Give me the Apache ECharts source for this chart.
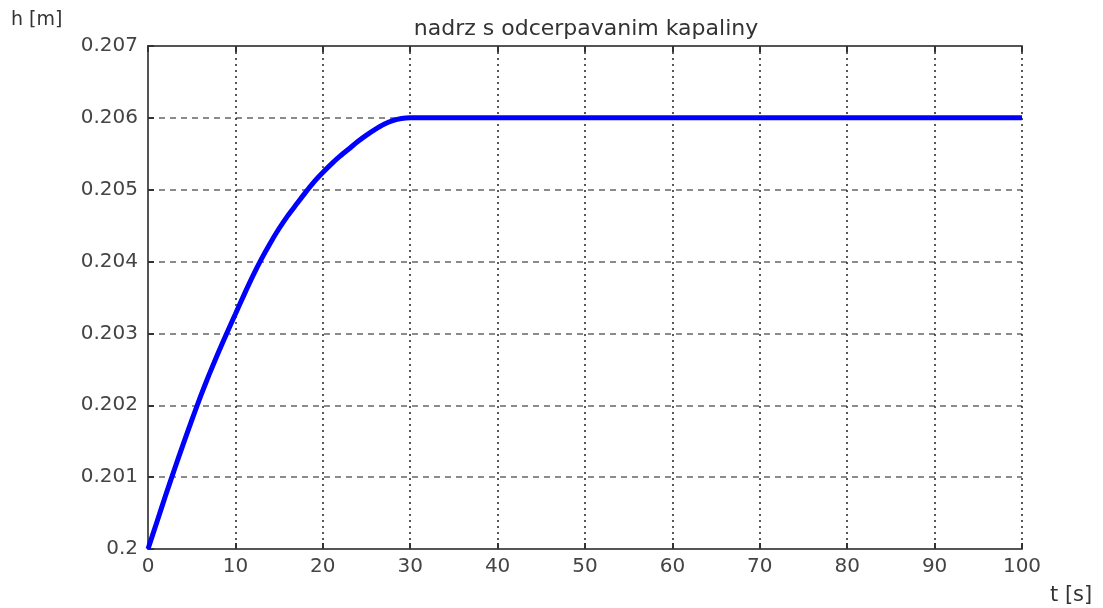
<!DOCTYPE html>
<html><head><meta charset="utf-8">
<script src="https://cdn.jsdelivr.net/npm/echarts@6/dist/echarts.min.js"></script>
<style>html,body{margin:0;padding:0;background:#fff}#c{width:1103px;height:608px}</style>
</head><body><div id="c"></div>
<script>
const titleText = 'nadrz s odcerpavanim kapaliny';
const xName = 't [s]';
const yName = 'h [m]';
const tValues = [0,1,2,3,4,5,6,7,8,9,10,11,12,13,14,15,16,17,18,19,20,21,22,23,24,25,26,27,28,29,30,40,50,60,70,80,90,100];
const hValues = [0.2,0.20037,0.20074,0.2011,0.20145,0.20179,0.20212,0.20243,0.20272,0.203,0.20327,0.20354,0.2038,0.20404,0.20426,0.20446,0.20464,0.2048,0.20496,0.20511,0.20524,0.20536,0.20547,0.20557,0.20567,0.20576,0.20584,0.20591,0.20596,0.20599,0.206,0.206,0.206,0.206,0.206,0.206,0.206,0.206];
const yTickLabels = ['0.2','0.201','0.202','0.203','0.204','0.205','0.206','0.207'];

const data = tValues.map((t,i)=>[t,hValues[i]]);
const chart = echarts.init(document.getElementById('c'));
const FONT = 'DejaVu Sans';
const lab = {color:'#444',fontFamily:FONT,fontSize:20};
const axisLineStyle = {lineStyle:{color:'#555',width:2}};
chart.setOption({
  animation:false,
  backgroundColor:'#fff',
  title:{text:titleText,left:581,top:13,textAlign:'center',textStyle:{fontFamily:FONT,fontSize:22,fontWeight:'normal',color:'#333'}},
  graphic:[
    {type:'text',left:11,top:11,style:{text:yName,font:'19px DejaVu Sans',fill:'#333'}},
    {type:'text',left:1050,top:585,style:{text:xName,font:'21px DejaVu Sans',fill:'#333'}}
  ],
  grid:{left:148,right:81,top:46,bottom:59,containLabel:false,show:false},
  xAxis:[
    {type:'value',min:0,max:100,interval:10,position:'bottom',
     axisLine:{show:true,onZero:false,...axisLineStyle},
     axisTick:{show:true,inside:true,length:6,lineStyle:{color:'#333',width:2}},
     axisLabel:{...lab,margin:8},
     splitLine:{show:true,lineStyle:{color:'#222',type:[2,4],width:1.5}}},
    {type:'value',min:0,max:100,interval:10,position:'top',
     axisLine:{show:true,...axisLineStyle},
     axisTick:{show:true,inside:true,length:6,lineStyle:{color:'#333',width:2}},
     axisLabel:{show:false},splitLine:{show:false}}
  ],
  yAxis:[
    {type:'value',min:0.2,max:0.207,interval:0.001,position:'left',
     axisLine:{show:true,onZero:false,...axisLineStyle},
     axisTick:{show:true,inside:true,length:6,lineStyle:{color:'#333',width:2}},
     axisLabel:{...lab,margin:10,formatter:(v)=>{const i=Math.round((v-0.2)/0.001);return yTickLabels[i]||'';}},
     splitLine:{show:true,lineStyle:{color:'#666',type:[6,5],width:1.5}}},
    {type:'value',min:0.2,max:0.207,interval:0.001,position:'right',
     axisLine:{show:true,...axisLineStyle},
     axisTick:{show:false},
     axisLabel:{show:false},splitLine:{show:false}}
  ],
  series:[{type:'line',data:data,showSymbol:false,smooth:0.2,
    lineStyle:{color:'#0000ff',width:5},z:5}]
});
</script></body></html>
